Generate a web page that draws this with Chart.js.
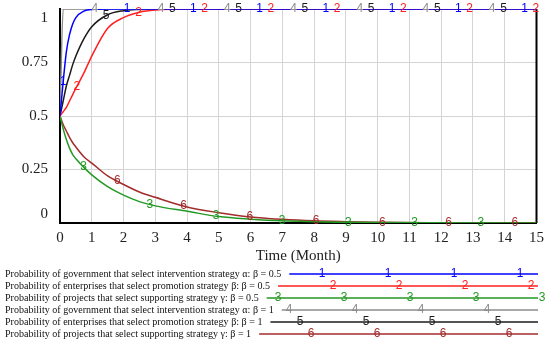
<!DOCTYPE html>
<html>
<head>
<meta charset="utf-8">
<script src="https://cdn.jsdelivr.net/npm/chart.js@4"></script>
<style>
html, body { margin: 0; padding: 0; background: #fff; }
#wrap { width: 550px; height: 345px; }
</style>
</head>
<body>
<div id="wrap"><canvas id="chart" width="550" height="345"></canvas></div>
<script>
// time axis (months) and simulated probabilities
var times      = [0, 0.1, 0.2, 0.3, 0.4, 0.5, 0.75, 1, 1.5, 2, 2.5, 3, 4, 5, 6, 7, 8, 9, 10, 12, 15];
var govHalf    = [0.5, 0.66, 0.80, 0.88, 0.93, 0.96, 0.99, 0.998, 1, 1, 1, 1, 1, 1, 1, 1, 1, 1, 1, 1, 1];
var entHalf    = [0.5, 0.52, 0.54, 0.57, 0.60, 0.63, 0.70, 0.78, 0.91, 0.96, 0.985, 0.995, 1, 1, 1, 1, 1, 1, 1, 1, 1];
var projHalf   = [0.5, 0.44, 0.39, 0.35, 0.32, 0.30, 0.26, 0.225, 0.17, 0.13, 0.10, 0.08, 0.055, 0.03, 0.018, 0.01, 0.006, 0.003, 0.002, 0.001, 0];
var govOne     = [0.5, 1, 1, 1, 1, 1, 1, 1, 1, 1, 1, 1, 1, 1, 1, 1, 1, 1, 1, 1, 1];
var entOne     = [0.5, 0.57, 0.64, 0.69, 0.74, 0.78, 0.86, 0.917, 0.973, 0.992, 0.998, 1, 1, 1, 1, 1, 1, 1, 1, 1, 1];
var projOne    = [0.5, 0.46, 0.43, 0.40, 0.375, 0.355, 0.31, 0.28, 0.22, 0.18, 0.145, 0.12, 0.075, 0.048, 0.028, 0.017, 0.01, 0.006, 0.003, 0.001, 0];

var seriesNames = [
    'Probability of government that select intervention strategy \u03b1: \u03b2 = 0.5',
    'Probability of enterprises that select promotion strategy \u03b2: \u03b2 = 0.5',
    'Probability of projects that select supporting strategy \u03b3: \u03b2 = 0.5',
    'Probability of government that select intervention strategy \u03b1: \u03b2 = 1',
    'Probability of enterprises that select promotion strategy \u03b2: \u03b2 = 1',
    'Probability of projects that select supporting strategy \u03b3: \u03b2 = 1'
];
var seriesValues = [govHalf, entHalf, projHalf, govOne, entOne, projOne];
var seriesMarks = ['1', '2', '3', '4', '5', '6'];
var xTicks = [0, 1, 2, 3, 4, 5, 6, 7, 8, 9, 10, 11, 12, 13, 14, 15];
var yTicks = [0, 0.25, 0.5, 0.75, 1];

var colors = ['#0000ff', '#ff2020', '#229922', '#8c8c8c', '#1a1a1a', '#a32c2c'];
var serif = '"Liberation Serif", "Times New Roman", serif';
var sans = '"Liberation Sans", Arial, sans-serif';

// where the number labels sit along each line (months)
var firstMark = [0.1, 0.53, 0.74, 1.095, 1.45, 1.805];
var markBase = [0.03, 0.385, 0.74, 1.095, 1.45, 1.805];
var markStep = 2.085;

function valueAt(arr, t) {
    for (var i = 1; i < times.length; i++) {
        if (t <= times[i]) {
            var f = (t - times[i - 1]) / (times[i] - times[i - 1]);
            return arr[i - 1] + f * (arr[i] - arr[i - 1]);
        }
    }
    return arr[arr.length - 1];
}

var datasets = seriesValues.map(function(arr, k) {
    return {
        label: seriesNames[k],
        data: times.map(function(t, i) { return { x: t, y: arr[i] }; }),
        borderColor: colors[k],
        backgroundColor: colors[k],
        borderWidth: 1.5,
        pointRadius: 0,
        cubicInterpolationMode: 'monotone',
        fill: false
    };
});

var frame = {
    id: 'frame',
    beforeDatasetsDraw: function(chart) {
        var a = chart.chartArea, ctx = chart.ctx;
        ctx.save();
        ctx.strokeStyle = '#000';
        ctx.lineWidth = 2;
        ctx.beginPath();
        ctx.moveTo(a.right, a.top);
        ctx.lineTo(a.right, a.bottom);
        ctx.stroke();
        ctx.restore();
    },
    afterDatasetsDraw: function(chart) {
        var ctx = chart.ctx, xs = chart.scales.x, ys = chart.scales.y;
        ctx.save();
        ctx.font = '12px ' + sans;
        ctx.textAlign = 'center';
        ctx.textBaseline = 'middle';
        for (var k = 0; k < seriesValues.length; k++) {
            ctx.fillStyle = colors[k];
            var marks = [firstMark[k]];
            for (var j = 1; markBase[k] + markStep * j <= 15.02; j++) marks.push(markBase[k] + markStep * j);
            marks.forEach(function(t) {
                ctx.fillText(seriesMarks[k], xs.getPixelForValue(t), ys.getPixelForValue(valueAt(seriesValues[k], t)));
            });
        }
        ctx.restore();
    },
    afterDraw: function(chart) {
        var ctx = chart.ctx;
        ctx.save();
        ctx.textBaseline = 'middle';
        for (var k = 0; k < seriesNames.length; k++) {
            var y = 274 + 12 * k;
            ctx.font = '11px ' + serif;
            ctx.fillStyle = '#111';
            ctx.textAlign = 'left';
            var w = ctx.measureText(seriesNames[k]).width * 0.915;
            ctx.fillText(seriesNames[k], 5, y, w);
            var start = 5 + w + 8;
            ctx.strokeStyle = colors[k];
            ctx.lineWidth = 1.5;
            ctx.beginPath();
            ctx.moveTo(start, y);
            ctx.lineTo(538, y);
            ctx.stroke();
            ctx.font = '12px ' + sans;
            ctx.fillStyle = colors[k];
            ctx.textAlign = 'center';
            for (var mx = 256 + 11 * k; mx <= 542; mx += 66) {
                if (mx > start + 3) ctx.fillText(seriesMarks[k], mx, y);
            }
        }
        ctx.restore();
    }
};

new Chart(document.getElementById('chart'), {
    type: 'line',
    data: { datasets: datasets },
    options: {
        responsive: false,
        animation: false,
        layout: { padding: { left: 0, top: 9, right: 13, bottom: 80 } },
        plugins: { legend: { display: false }, tooltip: { enabled: false } },
        scales: {
            x: {
                type: 'linear',
                min: 0,
                max: 15,
                afterBuildTicks: function(scale) { scale.ticks = xTicks.map(function(v) { return { value: v }; }); },
                afterFit: function(scale) { scale.height = 42; },
                ticks: { color: '#222', padding: 6, font: { family: serif, size: 15 } },
                grid: { color: '#d4d4d4', lineWidth: 1, drawTicks: false },
                border: { color: '#000', width: 2 },
                title: { display: true, text: 'Time (Month)', color: '#222', padding: 0, font: { family: serif, size: 15 } }
            },
            y: {
                type: 'linear',
                min: 0,
                max: 1,
                afterBuildTicks: function(scale) { scale.ticks = yTicks.map(function(v) { return { value: v }; }); },
                afterFit: function(scale) { scale.width = 60; scale.paddingTop = 0; scale.paddingBottom = 0; },
                ticks: {
                    color: '#222',
                    padding: 12,
                    font: { family: serif, size: 15 },
                    callback: function(v) {
                        if (v === 1) return ['', '1'];
                        if (v === 0) return ['0', ''];
                        return String(v);
                    }
                },
                grid: { color: '#d4d4d4', lineWidth: 1, drawTicks: false },
                border: { color: '#000', width: 2 }
            }
        }
    },
    plugins: [frame]
});
</script>
</body>
</html>
